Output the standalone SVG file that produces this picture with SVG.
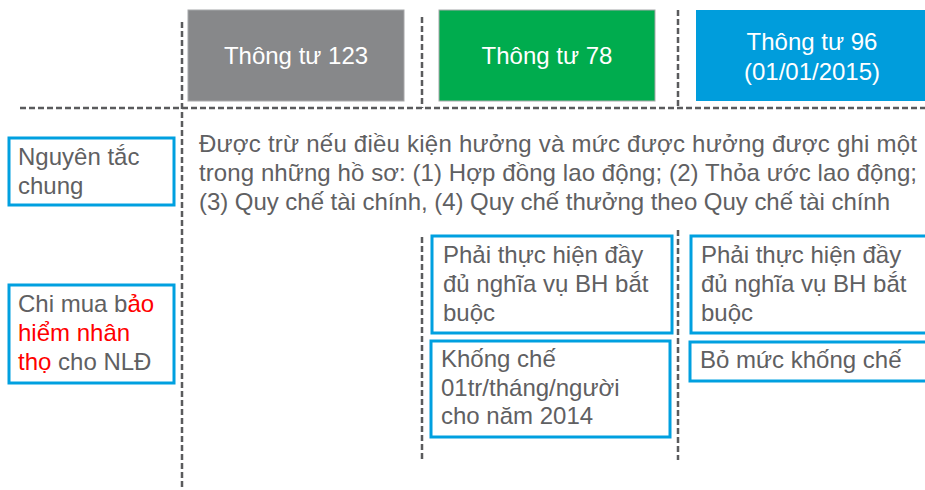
<svg xmlns="http://www.w3.org/2000/svg" width="925" height="490" viewBox="0 0 925 490">
<style>
.t{font-family:"Liberation Sans",Arial,sans-serif;font-size:24px;fill:#5f6062}
.h{font-family:"Liberation Sans",Arial,sans-serif;font-size:24px;fill:#ffffff;text-anchor:middle}
.r{fill:#ff0000}
.bx{fill:#ffffff;stroke:#00a0e0;stroke-width:3}
.d{fill:none;stroke:#5a5b5d;stroke-width:2.5;stroke-dasharray:6 3}
</style>
<rect width="925" height="490" fill="#ffffff"/>
<g id="connectors">
<line class="d" x1="20" y1="108" x2="925" y2="108"/>
<line class="d" x1="182" y1="22" x2="182" y2="490"/>
<line class="d" x1="422" y1="17" x2="422" y2="108"/>
<line class="d" x1="678" y1="10" x2="678" y2="108"/>
<line class="d" x1="422" y1="237" x2="422" y2="462"/>
<line class="d" x1="678" y1="230" x2="678" y2="460"/>
</g>
<g id="h123">
<rect x="188" y="10" width="216" height="91" fill="#87888a" stroke="#a6a7a9" stroke-width="1"/>
<text class="h" x="296" y="64">Thông tư 123</text>
</g>
<g id="h78">
<rect x="439" y="10" width="216" height="91" fill="#00ac4e" stroke="#a6a7a9" stroke-width="1"/>
<text class="h" x="547" y="64">Thông tư 78</text>
</g>
<g id="h96">
<rect x="696" y="10" width="235" height="91" fill="#009ddc"/>
<text class="h" x="812" y="50">Thông tư 96</text>
<text class="h" x="812" y="80">(01/01/2015)</text>
</g>
<g id="nguyentac">
<rect class="bx" x="9" y="138" width="165" height="67"/>
<text class="t" x="18" y="165">Nguyên tắc</text>
<text class="t" x="18" y="194">chung</text>
</g>
<g id="chimua">
<rect class="bx" x="9" y="285" width="165" height="98"/>
<text class="t" x="18" y="312">Chi mua b<tspan class="r">ảo</tspan></text>
<text class="t" x="18" y="341"><tspan class="r">hiểm nhân</tspan></text>
<text class="t" x="18" y="370"><tspan class="r">thọ</tspan> cho NLĐ</text>
</g>
<g id="maintext">
<text class="t" x="199" y="152" textLength="718" lengthAdjust="spacing">Được trừ nếu điều kiện hưởng và mức được hưởng được ghi một</text>
<text class="t" x="199" y="181" textLength="718" lengthAdjust="spacing">trong những hồ sơ: (1) Hợp đồng lao động; (2) Thỏa ước lao động;</text>
<text class="t" x="199" y="210" textLength="691" lengthAdjust="spacing">(3) Quy chế tài chính, (4) Quy chế thưởng theo Quy chế tài chính</text>
</g>
<g id="bh78">
<rect class="bx" x="432" y="236" width="240" height="97"/>
<text class="t" x="443" y="263">Phải thực hiện đầy</text>
<text class="t" x="443" y="292">đủ nghĩa vụ BH bắt</text>
<text class="t" x="443" y="321">buộc</text>
</g>
<g id="kc78">
<rect class="bx" x="431" y="341" width="239" height="96"/>
<text class="t" x="441" y="367">Khống chế</text>
<text class="t" x="441" y="396">01tr/tháng/người</text>
<text class="t" x="441" y="424">cho năm 2014</text>
</g>
<g id="bh96">
<rect class="bx" x="691" y="236" width="240" height="97"/>
<text class="t" x="701" y="263">Phải thực hiện đầy</text>
<text class="t" x="701" y="292">đủ nghĩa vụ BH bắt</text>
<text class="t" x="701" y="321">buộc</text>
</g>
<g id="kc96">
<rect class="bx" x="690" y="342" width="241" height="39"/>
<text class="t" x="700" y="368">Bỏ mức khống chế</text>
</g>
</svg>
